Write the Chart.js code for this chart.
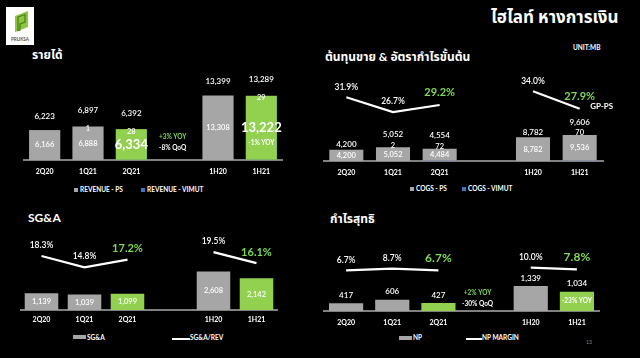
<!DOCTYPE html>
<html><head><meta charset="utf-8">
<script src="https://cdn.jsdelivr.net/npm/chart.js@4.4.0/dist/chart.umd.min.js"></script>
<style>
html,body{margin:0;padding:0;background:#000;}
body{width:640px;height:358px;position:relative;overflow:hidden;font-family:Lato,"Noto Sans Thai","Noto Sans",sans-serif;color:#fff;}
.abs{position:absolute;white-space:nowrap;line-height:1;}
canvas{position:absolute;}
.title{font-weight:bold;font-size:12px;}
.leg{font-weight:bold;font-size:6.5px;}
.sq{position:absolute;}
</style></head>
<body>
<div class="abs" style="left:6px;top:7px;width:28px;height:38px;background:#fff;">
  <svg width="28" height="38" viewBox="0 0 28 38" style="position:absolute;left:0;top:0">
    <polygon points="9,9 22,4 22,20 9,25" fill="#8cc63f"/>
    <polygon points="12,10 19,7.5 19,15 14,17 14,23 12,23.7" fill="none" stroke="#4a7a1e" stroke-width="1.2"/>
    <text x="14" y="33.5" font-size="4.6" font-family="Lato" font-weight="bold" fill="#555" text-anchor="middle">PRUKSA</text>
  </svg>
</div>
<div class="abs" style="left:491px;top:8px;font-size:17px;font-weight:bold;">ไฮไลท์ หางการเงิน</div>
<div class="abs" style="left:573px;top:45px;font-size:6.5px;font-weight:bold;">UNIT:MB</div>
<div class="abs title" style="left:32px;top:49px;">รายได้</div>
<div class="abs title" style="left:325px;top:51px;">ต้นทุนขาย &amp; อัตรากำไรขั้นต้น</div>
<div class="abs title" style="left:28px;top:212px;">SG&amp;A</div>
<div class="abs title" style="left:330px;top:213px;">กำไรสุทธิ</div>

<div class="sq" style="left:74px;top:188px;width:3.5px;height:3.5px;background:#a6a6a6"></div>
<div class="abs leg" style="left:80px;top:187px;">REVENUE - PS</div>
<div class="sq" style="left:141px;top:188px;width:3.5px;height:3.5px;background:#4472c4"></div>
<div class="abs leg" style="left:147px;top:187px;">REVENUE - VIMUT</div>

<div class="sq" style="left:410px;top:187px;width:3.5px;height:3.5px;background:#a6a6a6"></div>
<div class="abs leg" style="left:416px;top:186px;">COGS - PS</div>
<div class="sq" style="left:462px;top:187px;width:3.5px;height:3.5px;background:#4472c4"></div>
<div class="abs leg" style="left:468px;top:186px;">COGS - VIMUT</div>

<div class="sq" style="left:73px;top:335px;width:13px;height:4px;background:#a6a6a6"></div>
<div class="abs leg" style="left:87px;top:334.5px;">SG&amp;A</div>
<div class="sq" style="left:172px;top:337.5px;width:18px;height:2px;background:#fff"></div>
<div class="abs leg" style="left:190px;top:334.5px;">SG&amp;A/REV</div>

<div class="sq" style="left:399px;top:336px;width:13px;height:4px;background:#a6a6a6"></div>
<div class="abs leg" style="left:413px;top:335px;">NP</div>
<div class="sq" style="left:466px;top:337.5px;width:16px;height:2px;background:#fff"></div>
<div class="abs leg" style="left:482px;top:335px;">NP MARGIN</div>
<div class="abs" style="left:586px;top:340px;font-size:5px;color:#888;">13</div>

<canvas id="c1" width="260" height="122" style="left:23px;top:60px"></canvas>
<canvas id="c2" width="300" height="123" style="left:323px;top:60px"></canvas>
<canvas id="c3" width="258" height="107" style="left:20px;top:225px"></canvas>
<canvas id="c4" width="277" height="108" style="left:323px;top:225px"></canvas>

<script>
// ---------- data ----------
const categories = ['2Q20', '1Q21', '2Q21', '', '1H20', '1H21'];
const highlightIdx = [2, 5];

const revenuePS    = [6166, 6888, 6334, null, 13308, 13222];
const revenueVimut = [null, 1, 28, null, null, 29];
const revenueTotal = [6223, 6897, 6392, null, 13399, 13289];
const revenueGapNote = ['+3% YOY', '-8% QoQ'];
const revenueBarNote = '-1% YOY';

const cogsPS    = [4200, 5052, 4484, null, 8782, 9536];
const cogsVimut = [null, 2, 72, null, null, 70];
const cogsTotal = [4200, 5052, 4554, null, 8782, 9606];
const gpMargin  = [31.9, 26.7, 29.2, null, 34.0, 27.9];

const sga      = [1139, 1039, 1099, null, 2608, 2142];
const sgaRatio = [18.3, 14.8, 17.2, null, 19.5, 16.1];

const np       = [417, 606, 427, null, 1339, 1034];
const npMargin = [6.7, 8.7, 6.7, null, 10.0, 7.8];
const npGapNote = ['+2% YOY', '-30% QoQ'];
const npBarNote = '-23% YOY';

// ---------- styling ----------
const GRAY = '#a6a6a6', GREEN = '#92d050', BLUE = '#4472c4';
const FONT = 'Lato, sans-serif';
const fmt = v => Number(v).toLocaleString('en-US');
const colorsFor = (vals, hi) => vals.map((v, i) => hi && highlightIdx.includes(i) ? GREEN : GRAY);

const labelPlugin = {
  id: 'vlabels',
  afterDatasetsDraw(chart) {
    const o = chart.options.plugins.vlabels;
    if (!o) return;
    const ctx = chart.ctx;
    const bars = chart.getDatasetMeta(0).data;
    ctx.save();
    ctx.textAlign = 'center';
    ctx.textBaseline = 'middle';
    const put = (t, x, y, size, weight, color) => {
      ctx.font = `${weight} ${size}px ${FONT}`;
      ctx.fillStyle = color;
      ctx.fillText(t, x, y);
    };
    const vals = chart.data.datasets[0].data;
    if (o.inside) {
      vals.forEach((v, i) => {
        if (v == null) return;
        const b = bars[i];
        const hi = o.inside.big && highlightIdx.includes(i);
        put(fmt(v), b.x, (b.y + b.base) / 2, hi ? o.inside.bigSize : o.inside.size, hi ? 'bold' : '600', '#fff');
      });
    }
    if (o.vimut) {
      o.vimut.values.forEach((v, i) => {
        if (v == null) return;
        put(fmt(v), bars[i].x, bars[i].y + o.vimut.dy, o.vimut.size, '600', '#fff');
      });
    }
    if (o.totals) {
      o.totals.values.forEach((v, i) => {
        if (v == null) return;
        const dy = (o.vimut && o.vimut.values[i] != null) ? o.totals.dyV : o.totals.dy;
        put(fmt(v), bars[i].x, bars[i].y + dy, o.totals.size, '600', '#fff');
      });
    }
    if (o.line) {
      const meta = chart.getDatasetMeta(o.line.ds);
      const d = chart.data.datasets[o.line.ds].data;
      meta.data.forEach((p, i) => {
        if (d[i] == null) return;
        const hi = highlightIdx.includes(i);
        put(d[i].toFixed(1) + '%', p.x, p.y - (hi ? o.line.dyHi : o.line.dy),
            hi ? o.line.hiSize : o.line.size, hi ? 'bold' : '600', hi ? '#7ed957' : '#fff');
      });
    }
    if (o.gapNote) {
      const x = chart.scales.x.getPixelForValue(3) + o.gapNote.dx;
      const y0 = chart.chartArea.bottom - o.gapNote.up;
      put(o.gapNote.lines[0], x, y0, 6.5, 'bold', '#7ed957');
      put(o.gapNote.lines[1], x, y0 + 11, 6.5, 'bold', '#fff');
    }
    if (o.barNote) {
      const b = bars[o.barNote.index];
      put(o.barNote.text, b.x, (b.y + b.base) / 2 + o.barNote.dy, 6.5, 'bold', '#fff');
    }
    if (o.tail) {
      const meta = chart.getDatasetMeta(o.line.ds);
      const p = meta.data[5];
      put(o.tail, p.x + 22, p.y - 2, 8, 'bold', '#fff');
    }
    ctx.restore();
  }
};

function makeChart(id, cfg) {
  const datasets = [];
  if (cfg.line) {
    datasets.push({ type: 'line', data: cfg.line, yAxisID: 'y2', borderColor: '#fff',
      borderWidth: 2.2, pointRadius: 0, spanGaps: false, order: 0 });
  }
  datasets.unshift({ type: 'bar', data: cfg.bars, backgroundColor: colorsFor(cfg.bars, cfg.hi),
    barPercentage: cfg.barPct, categoryPercentage: 1, stack: 's', order: 2 });
  if (cfg.vimut) {
    datasets.splice(1, 0, { type: 'bar', data: cfg.vimut, backgroundColor: BLUE,
      barPercentage: cfg.barPct, categoryPercentage: 1, stack: 's', order: 1 });
  }
  return new Chart(document.getElementById(id), {
    data: { labels: categories, datasets },
    plugins: [labelPlugin],
    options: {
      responsive: false, animation: false, events: [],
      layout: { padding: { left: 0, right: cfg.padRight || 0, top: 0, bottom: 0 } },
      plugins: { legend: { display: false }, tooltip: { enabled: false }, vlabels: cfg.labels },
      scales: {
        x: { stacked: true, grid: { display: false, drawTicks: false },
             border: { color: '#808080', width: 2 },
             ticks: { color: '#fff', padding: cfg.tickPad, font: { family: FONT, size: 7, weight: 'bold' } },
             afterFit: s => { s.height = cfg.axisH; } },
        y: { stacked: true, display: false, min: 0, max: cfg.yMax },
        y2: { display: false, min: cfg.y2Min ?? 0, max: cfg.y2Max ?? 1 }
      }
    }
  });
}

makeChart('c1', {
  bars: revenuePS, vimut: revenueVimut, hi: true, barPct: 0.72, yMax: 20600,
  axisH: 22, tickPad: 8,
  labels: {
    inside: { size: 7.5, big: true, bigSize: 13 },
    vimut: { values: revenueVimut, dy: 2, size: 7.5 },
    totals: { values: revenueTotal, dy: -14, dyV: -16, size: 8 },
    gapNote: { lines: revenueGapNote, up: 23, dx: -2 },
    barNote: { index: 5, text: revenueBarNote, dy: 15 }
  }
});
makeChart('c2', {
  bars: cogsPS, vimut: cogsVimut, hi: false, barPct: 0.73, yMax: 37400,
  line: gpMargin, y2Min: 9.55, y2Max: 45.0, padRight: 20,
  axisH: 22, tickPad: 8,
  labels: {
    inside: { size: 7.5, big: false },
    vimut: { values: cogsVimut, dy: -2, size: 7.5 },
    totals: { values: cogsTotal, dy: -5, dyV: -13, size: 8 },
    line: { ds: 2, size: 8.5, hiSize: 11, dy: 10.5, dyHi: 12.5 },
    tail: 'GP-PS'
  }
});
makeChart('c3', {
  bars: sga, hi: true, barPct: 0.78, yMax: 5743,
  line: sgaRatio, y2Min: 1.6, y2Max: 27.9,
  axisH: 22, tickPad: 6,
  labels: {
    inside: { size: 7.5, big: false },
    line: { ds: 1, size: 8.5, hiSize: 11, dy: 11, dyHi: 11 }
  }
});
makeChart('c4', {
  bars: np, hi: true, barPct: 0.74, yMax: 4600,
  line: npMargin, y2Min: -44.2, y2Max: 63.3,
  axisH: 22, tickPad: 8,
  labels: {
    totals: { values: np, dy: -8, dyV: -8, size: 8 },
    line: { ds: 1, size: 8.5, hiSize: 12, dy: 10.5, dyHi: 12 },
    gapNote: { lines: npGapNote, up: 18, dx: -7 },
    barNote: { index: 5, text: npBarNote, dy: 0 }
  }
});
</script>
</body></html>
